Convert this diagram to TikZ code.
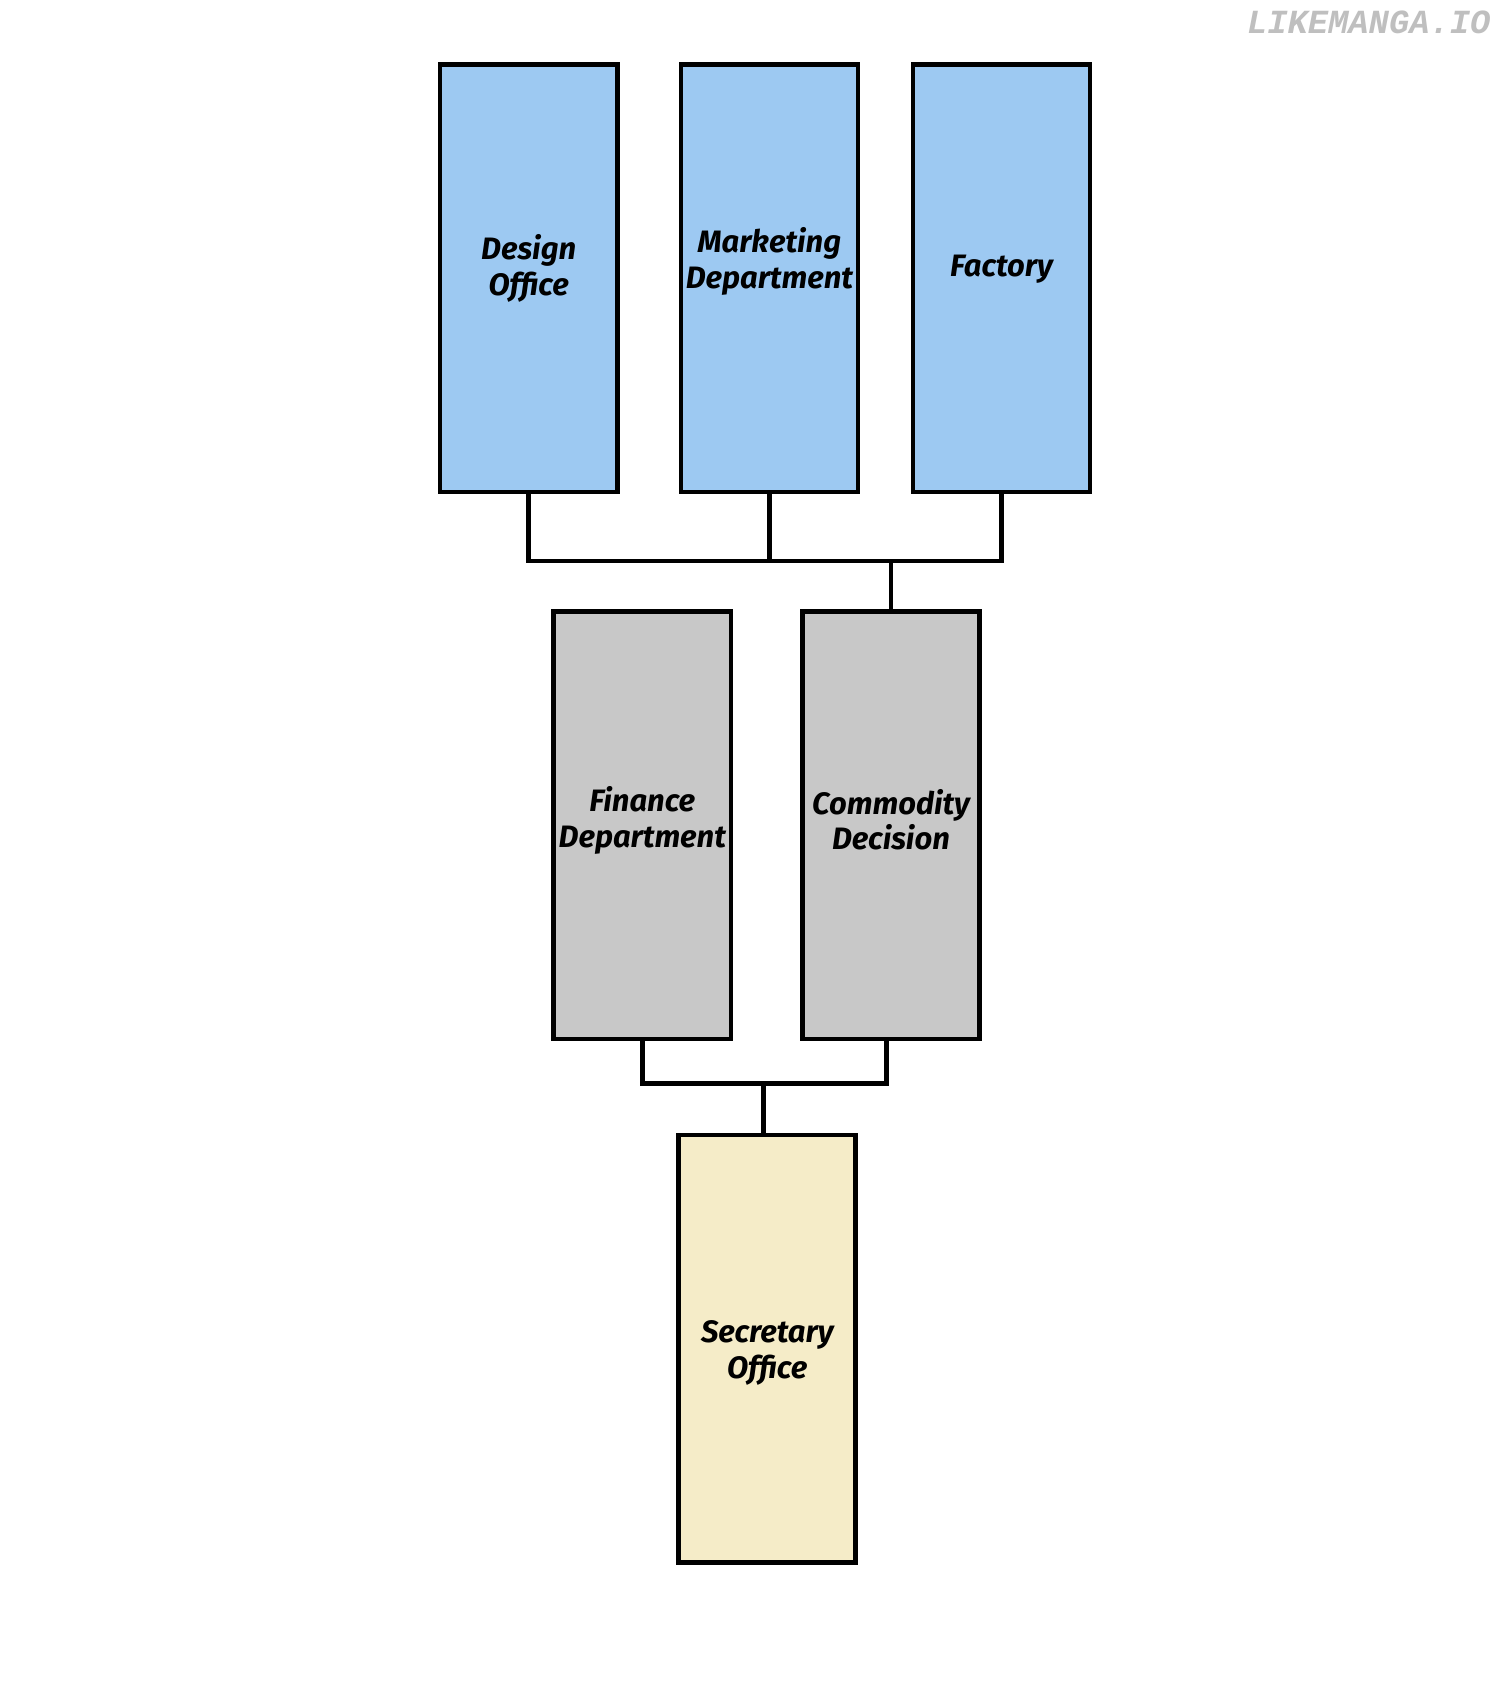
\documentclass[tikz,border=0pt]{standalone}
\usepackage{fontspec}
\setmainfont{Fira Sans}
\newfontfamily\markfont{Liberation Mono}
\usepackage{tikz}
\usetikzlibrary{positioning, calc}

\definecolor{deptblue}{RGB}{157,201,242}
\definecolor{deptgray}{RGB}{200,200,200}
\definecolor{deptcream}{RGB}{245,236,200}

% box caption, raised by #1 from the box centre
\newcommand{\deptname}[2]{\raisebox{#1}[0pt][0pt]{\begin{tabular}{@{}c@{}}#2\end{tabular}}}

\tikzset{
    dept/.style={draw=black, line width=1.3pt, minimum width=1.77cm, minimum height=4.27cm,
        inner sep=0pt, font=\fontsize{8.8}{10.1}\selectfont\bfseries\itshape},
    link/.style={line width=1.3pt}
}

\begin{document}
\begin{tikzpicture}[x=0.01cm, y=-0.01cm]
    \useasboundingbox (0,0) rectangle (1500,1689);
    \fill[white] (0,0) rectangle (1500,1689);

    % top row
    \node[dept, fill=deptblue] (design)    at (528.7,278.4) {\deptname{0pt}{Design\\Office}};
    \node[dept, fill=deptblue] (marketing) at (769.4,278.4) {\deptname{2pt}{Marketing\\Department}};
    \node[dept, fill=deptblue] (factory)   at (1001.4,278.4) {\deptname{0.3pt}{Factory}};

    % middle row
    \node[dept, fill=deptgray] (finance)   at (642.3,825.4) {\deptname{-1.4pt}{Finance\\Department}};
    \node[dept, fill=deptgray] (commodity) at (891.0,825.4) {\deptname{-2.1pt}{Commodity\\Decision}};

    % bottom
    \node[dept, fill=deptcream] (secretary) at (767.2,1348.7) {\deptname{-3.6pt}{Secretary\\Office}};

    \coordinate (upperbus) at (891.0,561);
    \coordinate (lowerbus) at (763.4,1083.3);

    \draw[link] (design.south) |- (upperbus) -| (factory.south);
    \draw[link] (marketing.south) -- (marketing.south |- upperbus);
    \draw[link] (upperbus) -- (commodity.north);

    \draw[link] (finance.south) |- (lowerbus) -| ($(commodity.south)+(-4.8,0)$);
    \draw[link] (lowerbus) -- (lowerbus |- secretary.north);

    \node[text=gray!50, font=\markfont\fontsize{9.6}{10}\selectfont\bfseries\itshape,
        inner sep=0pt, anchor=north east] (watermark) at (1491,10) {LIKEMANGA.IO};
\end{tikzpicture}
\end{document}
